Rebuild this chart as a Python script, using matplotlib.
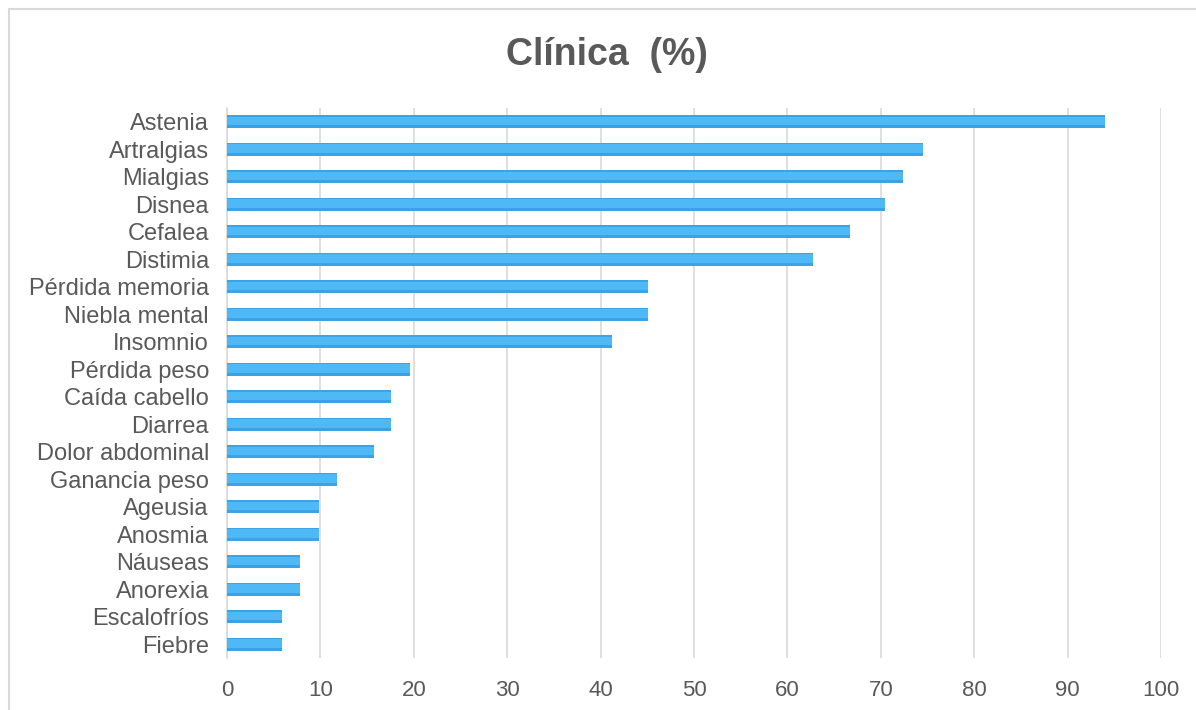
import matplotlib
matplotlib.use("Agg")
import matplotlib.pyplot as plt
from matplotlib.patches import Rectangle

categories = ["Astenia", "Artralgias", "Mialgias", "Disnea", "Cefalea", "Distimia",
              "Pérdida memoria", "Niebla mental", "Insomnio", "Pérdida peso",
              "Caída cabello", "Diarrea", "Dolor abdominal", "Ganancia peso",
              "Ageusia", "Anosmia", "Náuseas", "Anorexia", "Escalofríos", "Fiebre"]
values = [94, 74.5, 72.4, 70.4, 66.7, 62.7, 45.1, 45.1, 41.2, 19.6,
          17.6, 17.6, 15.7, 11.8, 9.8, 9.8, 7.8, 7.8, 5.9, 5.9]
xticks = [0, 10, 20, 30, 40, 50, 60, 70, 80, 90, 100]

plt.rcParams['font.family'] = ['Liberation Sans', 'DejaVu Sans']
W, H = 1196, 710
fig = plt.figure(figsize=(W / 100, H / 100), dpi=100)
fig.patch.set_facecolor('white')

# outer frame (left/top visible)
fig.patches.append(Rectangle((9 / W, -0.05), 1.2, 1 - 9 / H + 0.05,
                             transform=fig.transFigure, fill=False,
                             edgecolor='#d9d9d9', linewidth=1.5))

left, right = 227 / W, 1161 / W
top, bottom = 1 - 108 / H, 1 - 658 / H
ax = fig.add_axes([left, bottom, right - left, top - bottom])

y = list(range(len(categories)))
ax.barh(y, values, height=0.47, color='#3aa3e8', edgecolor='none', zorder=3)
ax.barh([v - 0.02 for v in y], values, height=0.31, color='#4fb9f5',
        edgecolor='none', zorder=4)

ax.set_ylim(len(categories) - 0.5, -0.5)
ax.set_xlim(0, 100)
ax.set_xticks(xticks)
ax.set_yticks(y)
ax.set_yticklabels(categories)
ax.xaxis.grid(True, color='#d9d9d9', linewidth=1.2, zorder=0)
ax.set_axisbelow(True)
for s in ['top', 'right', 'bottom']:
    ax.spines[s].set_visible(False)
ax.spines['left'].set_color('#d9d9d9')
ax.spines['left'].set_linewidth(1.2)
ax.tick_params(axis='both', length=0, colors='#595959')
ax.tick_params(axis='x', pad=16, labelsize=16)
ax.tick_params(axis='y', pad=13, labelsize=17)

fig.text(607 / W, 1 - 55 / H, "Clínica  (%)", ha='center', va='center',
         fontsize=27, fontweight='bold', color='#595959')

fig.savefig("out.png", dpi=100, facecolor='white')
